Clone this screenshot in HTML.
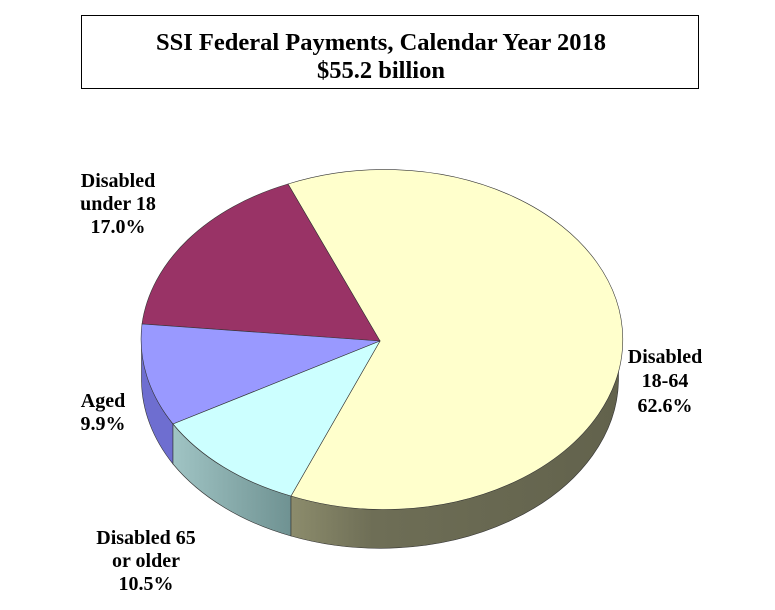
<!DOCTYPE html>
<html><head><style>
body{margin:0;background:#fff;}
</style></head><body>
<svg width="775" height="605" xmlns="http://www.w3.org/2000/svg" font-family="Liberation Serif, serif" font-weight="bold">
<defs>
<linearGradient id="gy" x1="291" y1="0" x2="619" y2="0" gradientUnits="userSpaceOnUse">
<stop offset="0" stop-color="#8c8c6c"/><stop offset="0.25" stop-color="#6e6e56"/><stop offset="1" stop-color="#62624c"/></linearGradient>
<linearGradient id="gc" x1="173" y1="0" x2="291" y2="0" gradientUnits="userSpaceOnUse">
<stop offset="0" stop-color="#a0c4c4"/><stop offset="1" stop-color="#6f9292"/></linearGradient>
</defs>
<rect x="81.5" y="15.5" width="617" height="73" fill="#fff" stroke="#000"/>
<text x="381" y="50" font-size="24.5" text-anchor="middle">SSI Federal Payments, Calendar Year 2018</text>
<text x="381" y="78" font-size="24.5" text-anchor="middle">$55.2 billion</text>
<g stroke="#333" stroke-width="0.6">
<path d="M141.5,341 A238.5,170 0 0 0 173,424 L173,464 A238.5,170 0 0 1 141.5,381 Z" fill="#6e6ed0"/>
<path d="M173,424 A238.5,170 0 0 0 291,496 L291,536 A238.5,170 0 0 1 173,464 Z" fill="url(#gc)"/>
<path d="M291,496 A238.5,170 0 0 0 618.5,341 L618.5,381 A238.5,170 0 0 1 291,536 Z" fill="url(#gy)"/>
<path d="M380,341 L288,184 A238.5,170 0 1 1 291,496 Z" fill="#FFFFCC"/>
<path d="M380,341 L142,324 A238.5,170 0 0 1 288,184 Z" fill="#993366"/>
<path d="M380,341 L173,424 A238.5,170 0 0 1 142,324 Z" fill="#9999FF"/>
<path d="M380,341 L291,496 A238.5,170 0 0 1 173,424 Z" fill="#CCFFFF"/>
</g>
<g font-size="20" text-anchor="middle">
<text x="118" y="187">Disabled</text><text x="118" y="210">under 18</text><text x="118" y="233">17.0%</text>
<text x="103" y="407">Aged</text><text x="103" y="430">9.9%</text>
<text x="146" y="544">Disabled 65</text><text x="146" y="567">or older</text><text x="146" y="590">10.5%</text>
<text x="665" y="363">Disabled</text><text x="665" y="387">18-64</text><text x="665" y="412">62.6%</text>
</g>
</svg>
</body></html>
